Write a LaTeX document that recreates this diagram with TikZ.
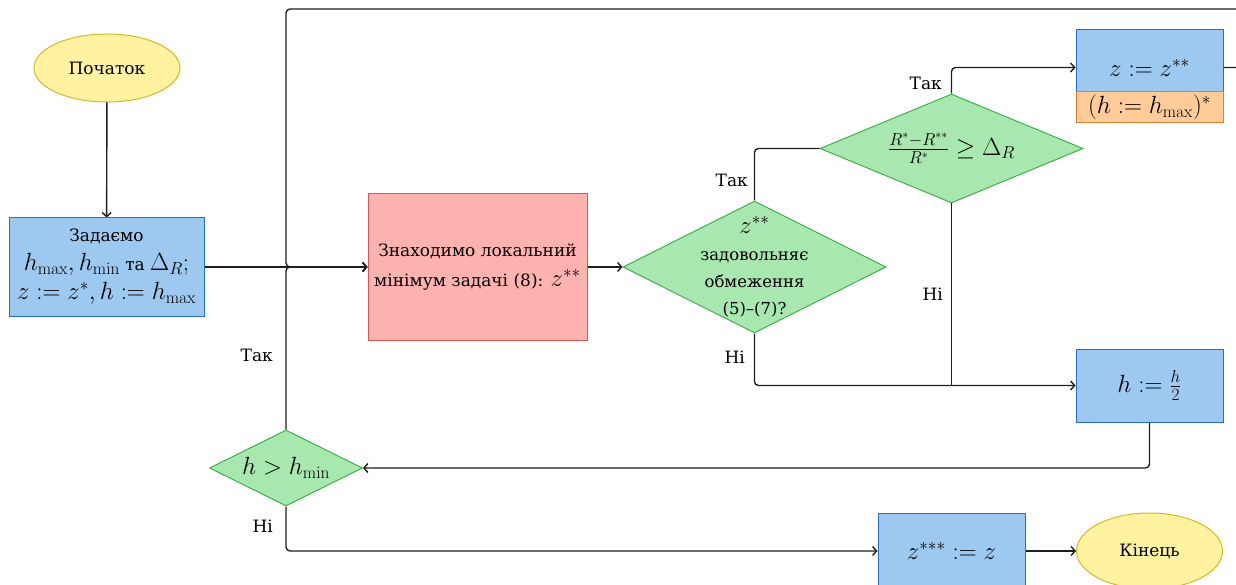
\documentclass[tikz,border=0pt]{standalone}
\usepackage[no-math]{fontspec}
\setmainfont{DejaVu Serif}
\usetikzlibrary{shapes.geometric,arrows.meta}
\definecolor{yfill}{RGB}{255,242,160}
\definecolor{ydraw}{RGB}{214,182,40}
\definecolor{bfill}{RGB}{157,200,240}
\definecolor{bdraw}{RGB}{36,112,200}
\definecolor{rfill}{RGB}{255,179,176}
\definecolor{rdraw}{RGB}{224,84,84}
\definecolor{gfill}{RGB}{168,232,176}
\definecolor{gdraw}{RGB}{62,176,72}
\definecolor{ofill}{RGB}{255,204,153}
\definecolor{odraw}{RGB}{224,128,48}
\definecolor{linec}{RGB}{30,30,30}
\newcommand\mm[1]{{\fontsize{23}{28}\selectfont$#1$}}
\begin{document}
\begin{tikzpicture}[x=1pt,y=-1pt,
  font=\fontsize{17}{29}\selectfont,
  box/.style={rectangle, draw=bdraw, fill=bfill, line width=1pt, align=center, inner sep=0pt},
  redbox/.style={box, draw=rdraw, fill=rfill},
  obox/.style={box, draw=odraw, fill=ofill},
  dia/.style={diamond, draw=gdraw, fill=gfill, line width=1pt, inner sep=0pt},
  term/.style={ellipse, draw=ydraw, fill=yfill, line width=1pt, inner sep=0pt},
  conn/.style={line width=1.4pt, draw=linec, rounded corners=4pt},
  arr/.style={conn, -{Straight Barb[length=4pt,width=9pt]}},
  lbl/.style={anchor=east, inner sep=0pt}
]
\useasboundingbox (0,0) rectangle (1236,585);
\clip (0,0) rectangle (1236,585);

% nodes
\node[term, minimum width=146pt, minimum height=68pt] (start) at (107,68) {Початок};
\node[box, minimum width=195pt, minimum height=98pt] (init) at (106.5,267)
  {Задаємо\\ \mm{h_{\max}, h_{\min}} та \mm{\Delta_R;}\\ \mm{z := z^{*}, h := h_{\max}}};
\node[redbox, minimum width=219pt, minimum height=146pt] (find) at (477.5,267)
  {Знаходимо локальний\\[1pt] мінімум задачі (8): \mm{z^{**}}};
\node[dia, minimum width=263pt, minimum height=132pt,
  label={[align=center, font=\fontsize{16.5}{27}\selectfont]center:{\mm{z^{**}}\\задовольняє\\обмеження\\(5)–(7)?}}] (d1) at (754.5,267) {};
\node[dia, minimum width=263pt, minimum height=109pt,
  label={[inner sep=0pt]center:{\mm{\frac{R^{*}-R^{**}}{R^{*}} \geq \Delta_R}}}] (d2) at (951.5,148.5) {};
\node[box, minimum width=147pt, minimum height=75pt] (zz) at (1149.5,67.5) {\mm{z := z^{**}}};
\node[obox, minimum width=147pt, minimum height=31pt] (hmax) at (1149.5,107.5) {\mm{(h := h_{\max})^{*}}};
\node[box, minimum width=147pt, minimum height=73pt] (half) at (1149.5,385.5) {\mm{h := \frac{h}{2}}};
\node[dia, minimum width=153pt, minimum height=76pt,
  label={[inner sep=0pt]center:{\mm{h > h_{\min}}}}] (d3) at (286,468) {};
\node[box, minimum width=147pt, minimum height=76pt] (zzz) at (951.5,551) {\mm{z^{***} := z}};
\node[term, minimum width=146pt, minimum height=76pt] (end) at (1149.5,551) {Кінець};

% helper coordinates
\coordinate (tr) at (1252,9);
\coordinate (tl) at (286,9);
\coordinate (jn) at (951.5,385.5);

% connectors
\draw[arr] (start) -- (init);
\draw[arr] (init.east) -- (find.west);
\draw[arr] (find.east) -- (d1.west);
\draw[conn] (d1.north) |- (d2.west);
\draw[arr] (d1.south) |- (half.west);
\draw[arr] (d2.north) |- (zz.west);
\draw[conn] (d2.south) -- (jn);
\draw[arr] (zz.east) -| (tr) -- (tl) |- (find.west);
\draw[arr] (d3.north) |- (find.west);
\draw[arr] (half.south) |- (d3.east);
\draw[arr] (d3.south) |- (zzz.west);
\draw[arr] (zzz.east) -- (end.west);

% branch labels
\node[lbl] (t1) at (748,180) {Так};
\node[lbl] (n1) at (745,357) {Ні};
\node[lbl] (t2) at (942,83) {Так};
\node[lbl] (n2) at (943,294) {Ні};
\node[lbl] (t3) at (273,355) {Так};
\node[lbl] (n3) at (273,526) {Ні};
\end{tikzpicture}
\end{document}
